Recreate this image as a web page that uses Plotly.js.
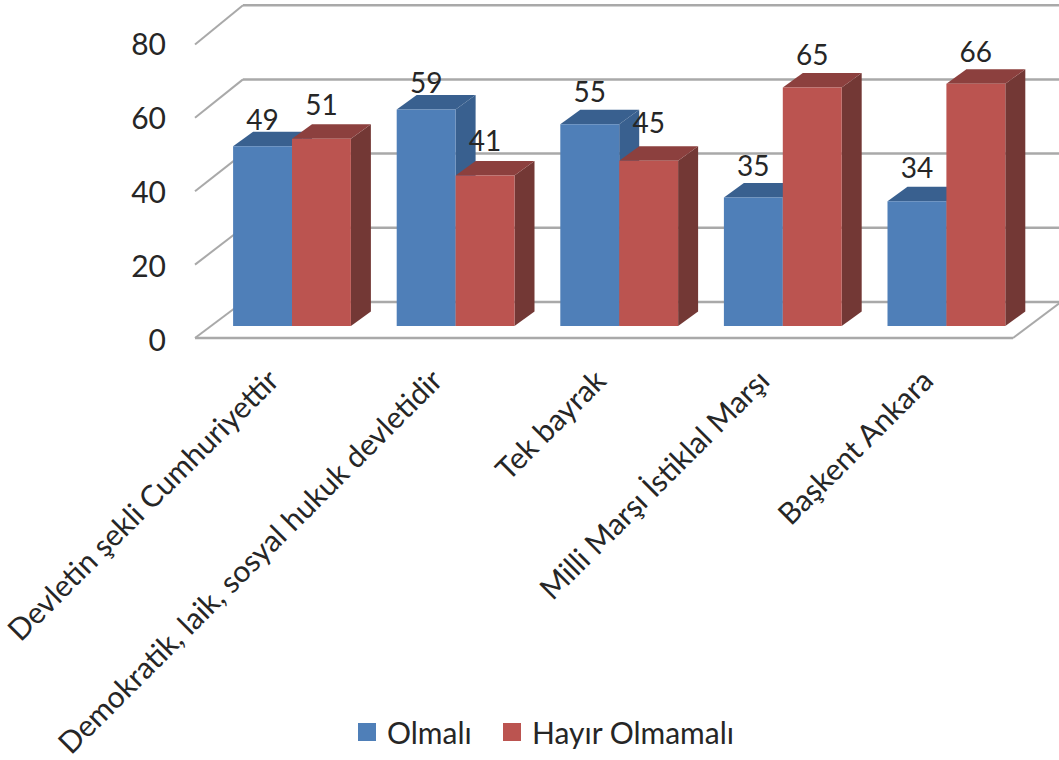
<!DOCTYPE html>
<html>
<head>
<meta charset="utf-8">
<script src="https://cdn.plot.ly/plotly-3.0.1.min.js"></script>
<style>html,body{margin:0;padding:0;background:#fff}#c{width:1059px;height:760px}</style>
</head>
<body>
<div id="c"></div>
<script>
const categories = ["Devletin şekli Cumhuriyettir","Demokratik, laik, sosyal hukuk devletidir","Tek bayrak","Milli Marşı İstiklal Marşı","Başkent Ankara"];
const olmali = [49,59,55,35,34];
const hayir = [51,41,45,65,66];
const axisTicks = [0,20,40,60,80];
const seriesNames = ["Olmalı","Hayır Olmamalı"];
const olmaliLabelLift = [6.3,6.3,7.9,7.9,8.2];
const hayirLabelLift = [8.5,8.7,9.5,7.9,7.9];
const colors = {blue:"#4F7FB8",blueDark:"#39608F",red:"#BB5450",redTop:"#8C403E",redSide:"#733835",grid:"#A9A9A9",text:"#262626"};

const W=1059,H=760;
const catPx=163.6, cat0=292;            // px per category, px of category 0
const barPx=3.67, bar0=326;             // bar plane scale
const labelPx=3.69, label0=340;         // tick label scale
const xr=[-cat0/catPx,(W-cat0)/catPx];
const yr=[(bar0-H)/barPx,bar0/barPx];
const y2r=[(label0-H)/labelPx,label0/labelPx];
const barW=0.36, depX=20/catPx, depY=14.5/barPx;
const wallX=48/catPx, left=(195-cat0)/catPx, right=(1013-cat0)/catPx;
const frontV=v=>v-12/barPx;                   // front edge of the floor/walls
const backV=v=>(bar0-302+3.71*v)/barPx;       // back wall
const font="Lato, 'Open Sans', sans-serif";

const shapes=[];
axisTicks.forEach(v=>{
  shapes.push({type:"line",layer:"below",xref:"x",yref:"y",x0:left,y0:frontV(v),x1:left+wallX,y1:backV(v),line:{color:colors.grid,width:2}});
  shapes.push({type:"line",layer:"below",xref:"x",yref:"y",x0:left+wallX,y0:backV(v),x1:xr[1]+0.1,y1:backV(v),line:{color:colors.grid,width:2.5}});
});
shapes.push({type:"line",layer:"below",xref:"x",yref:"y",x0:left,y0:frontV(0),x1:right,y1:frontV(0),line:{color:colors.grid,width:2.5}});
shapes.push({type:"line",layer:"below",xref:"x",yref:"y",x0:right,y0:frontV(0),x1:right+wallX,y1:backV(0),line:{color:colors.grid,width:2}});

function poly(pts,color){
  shapes.push({type:"path",layer:"below",xref:"x",yref:"y",line:{width:0},fillcolor:color,
    path:"M"+pts.map(p=>p[0]+","+p[1]).join("L")+"Z"});
}
function box(xl,v,top,side){
  const xe=xl+barW;
  poly([[xe,0],[xe+depX,depY],[xe+depX,v+depY],[xe,v]],side);
  poly([[xl,v],[xl+depX,v+depY],[xe+depX,v+depY],[xe,v]],top);
}
categories.forEach((c,i)=>{
  box(i-barW,olmali[i],colors.blueDark,colors.blueDark);
  box(i,hayir[i],colors.redTop,colors.redSide);
});

const idx=categories.map((c,i)=>i);
const traces=[
  {type:"bar",x:idx,y:olmali,marker:{color:colors.blue,line:{width:0}},showlegend:false,hoverinfo:"skip"},
  {type:"bar",x:idx,y:hayir,marker:{color:colors.red,line:{width:0}},showlegend:false,hoverinfo:"skip"},
  {type:"scatter",mode:"text",x:idx.map(i=>i-barW/2),y:olmali.map((v,i)=>v+olmaliLabelLift[i]),text:olmali.map(String),
   textposition:"middle center",textfont:{family:font,size:28,color:colors.text},showlegend:false,hoverinfo:"skip"},
  {type:"scatter",mode:"text",x:idx.map(i=>i+barW/2),y:hayir.map((v,i)=>v+hayirLabelLift[i]),text:hayir.map(String),
   textposition:"middle center",textfont:{family:font,size:28,color:colors.text},showlegend:false,hoverinfo:"skip"},
  {type:"scatter",mode:"markers",name:seriesNames[0],x:[null],y:[null],yaxis:"y2",legend:"legend",
   marker:{symbol:"square",size:16,color:colors.blue,line:{width:2,color:colors.blue}},hoverinfo:"skip"},
  {type:"scatter",mode:"markers",name:seriesNames[1],x:[null],y:[null],yaxis:"y2",legend:"legend2",
   marker:{symbol:"square",size:16,color:colors.red,line:{width:2,color:colors.red}},hoverinfo:"skip"}
];
const legendBase={orientation:"h",xanchor:"left",y:1-706/H,yanchor:"top",font:{family:font,size:30,color:colors.text},
    bgcolor:"rgba(0,0,0,0)",borderwidth:0,itemclick:false,itemdoubleclick:false};
const layout={
  width:W,height:H,margin:{l:0,r:0,t:0,b:0,pad:0},
  paper_bgcolor:"#fff",plot_bgcolor:"rgba(0,0,0,0)",
  font:{family:font,color:colors.text},
  showlegend:true,
  barmode:"group",bargap:0.28,bargroupgap:0,
  shapes,
  xaxis:{range:xr,tickmode:"array",tickvals:idx,ticktext:categories,tickangle:-45,ticklabelshift:-22,ticklabeloverflow:"allow",
    anchor:"free",position:1-356/H,domain:[0,1],
    showgrid:false,zeroline:false,showline:false,ticks:"",tickfont:{family:font,size:30,color:colors.text},automargin:false},
  yaxis:{range:yr,domain:[0,1],showgrid:false,zeroline:false,showticklabels:false,showline:false,ticks:"",automargin:false},
  yaxis2:{range:y2r,overlaying:"y",side:"left",anchor:"free",position:166/W,tickmode:"array",tickvals:axisTicks,
    showgrid:false,zeroline:false,showline:false,ticks:"",tickfont:{family:font,size:30,color:colors.text},automargin:false},
  legend:Object.assign({x:347/W},legendBase),
  legend2:Object.assign({x:492/W},legendBase)
};
Plotly.newPlot("c",traces,layout,{displayModeBar:false,responsive:false,staticPlot:true});
</script>
</body>
</html>
